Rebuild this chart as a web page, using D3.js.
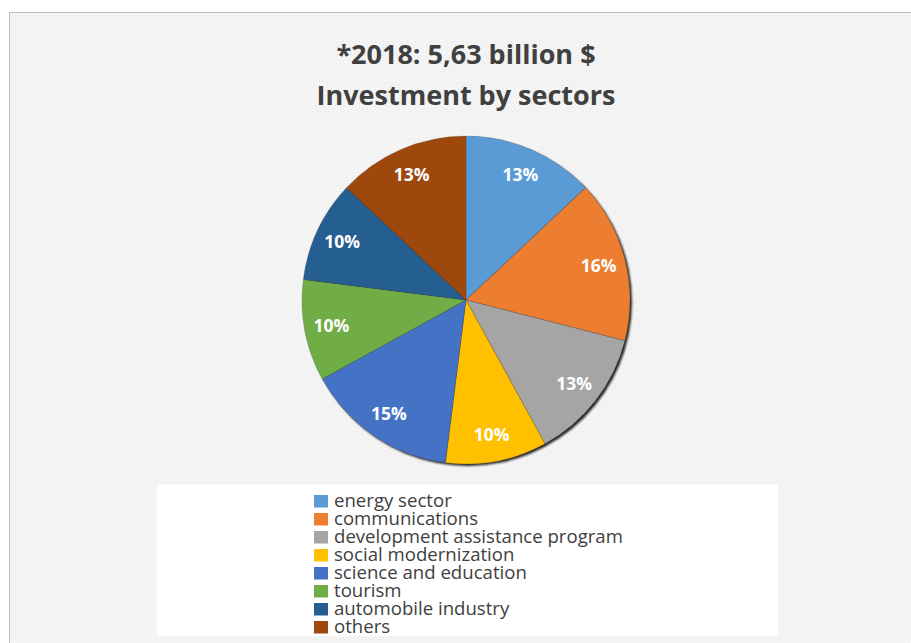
<!DOCTYPE html>
<html>
<head>
<meta charset="utf-8">
<script src="https://cdn.jsdelivr.net/npm/d3@7"></script>
<style>
  html, body { margin: 0; padding: 0; background: #ffffff; }
  svg { display: block; }
</style>
</head>
<body>
<div id="chart"></div>
<script>
// Investment by sector, 2018 (share of total, %)
const categories = [
  "energy sector",
  "communications",
  "development assistance program",
  "social modernization",
  "science and education",
  "tourism",
  "automobile industry",
  "others"
];
const shares = [13, 16, 13, 10, 15, 10, 10, 13];
const sliceColors = ["#5B9BD5", "#ED7D31", "#A5A5A5", "#FFC000", "#4472C4", "#70AD47", "#255E91", "#9E480E"];
const titleLines = ["*2018: 5,63 billion $", "Investment by sectors"];

const W = 911, H = 643;
const cx = 466, cy = 300, R = 164;

const svg = d3.select("#chart").append("svg")
  .attr("width", W).attr("height", H);

const defs = svg.append("defs");

// light grain texture for the chart area
const pat = defs.append("pattern")
  .attr("id", "grain").attr("width", 4).attr("height", 4)
  .attr("patternUnits", "userSpaceOnUse");
pat.append("rect").attr("width", 4).attr("height", 4).attr("fill", "#f3f3f3");
pat.append("rect").attr("x", 0).attr("y", 0).attr("width", 1).attr("height", 1).attr("fill", "#fbfbfb");
pat.append("rect").attr("x", 2).attr("y", 2).attr("width", 1).attr("height", 1).attr("fill", "#fbfbfb");
pat.append("rect").attr("x", 1).attr("y", 3).attr("width", 1).attr("height", 1).attr("fill", "#ececec");
pat.append("rect").attr("x", 3).attr("y", 1).attr("width", 1).attr("height", 1).attr("fill", "#ececec");

const blur = defs.append("filter").attr("id", "soft")
  .attr("x", "-10%").attr("y", "-10%").attr("width", "120%").attr("height", "120%");
blur.append("feGaussianBlur").attr("stdDeviation", 0.8);

// chart area
svg.append("rect")
  .attr("x", 9.5).attr("y", 12.5)
  .attr("width", W + 20).attr("height", H + 20)
  .attr("fill", "url(#grain)")
  .attr("stroke", "#bdbdbd").attr("stroke-width", 1);

// title
const title = svg.append("g")
  .attr("font-family", "'Open Sans', sans-serif")
  .attr("font-weight", "bold")
  .attr("font-size", 27)
  .attr("fill", "#404040")
  .attr("text-anchor", "middle");
title.selectAll("text").data(titleLines).join("text")
  .attr("x", cx)
  .attr("y", (d, i) => 64 + i * 41)
  .text(d => d);

// pie
const pie = d3.pie().sort(null).value(d => d);
const arcs = pie(shares);
const arc = d3.arc().innerRadius(0).outerRadius(R);
const labelArc = d3.arc().innerRadius(137).outerRadius(137);

const pieG = svg.append("g").attr("transform", `translate(${cx},${cy})`);

// drop shadow under the pie
pieG.append("circle")
  .attr("cx", 2).attr("cy", 2).attr("r", R)
  .attr("fill", "#000").attr("opacity", 0.85)
  .attr("filter", "url(#soft)");

pieG.selectAll("path.slice").data(arcs).join("path")
  .attr("class", "slice")
  .attr("d", arc)
  .attr("fill", (d, i) => sliceColors[i])
  .attr("stroke", "#3a3a3a")
  .attr("stroke-opacity", 0.5)
  .attr("stroke-width", 0.4);

pieG.selectAll("text.val").data(arcs).join("text")
  .attr("class", "val")
  .attr("transform", d => `translate(${labelArc.centroid(d)})`)
  .attr("text-anchor", "middle")
  .attr("dy", "0.36em")
  .attr("font-family", "'Open Sans', sans-serif")
  .attr("font-weight", "bold")
  .attr("font-size", 17.5)
  .attr("fill", "#ffffff")
  .text(d => d.data + "%");

// legend
svg.append("rect")
  .attr("x", 157).attr("y", 485)
  .attr("width", 621).attr("height", 151)
  .attr("fill", "#ffffff");

const legend = svg.append("g").attr("transform", "translate(314,495)");
const rows = legend.selectAll("g").data(categories).join("g")
  .attr("transform", (d, i) => `translate(0,${i * 18})`);
rows.append("rect")
  .attr("width", 14).attr("height", 12.5)
  .attr("fill", (d, i) => sliceColors[i]);
rows.append("text")
  .attr("x", 20).attr("y", 12)
  .attr("font-family", "'Open Sans', sans-serif")
  .attr("font-size", 18.6)
  .attr("fill", "#404040")
  .text(d => d);
</script>
</body>
</html>
